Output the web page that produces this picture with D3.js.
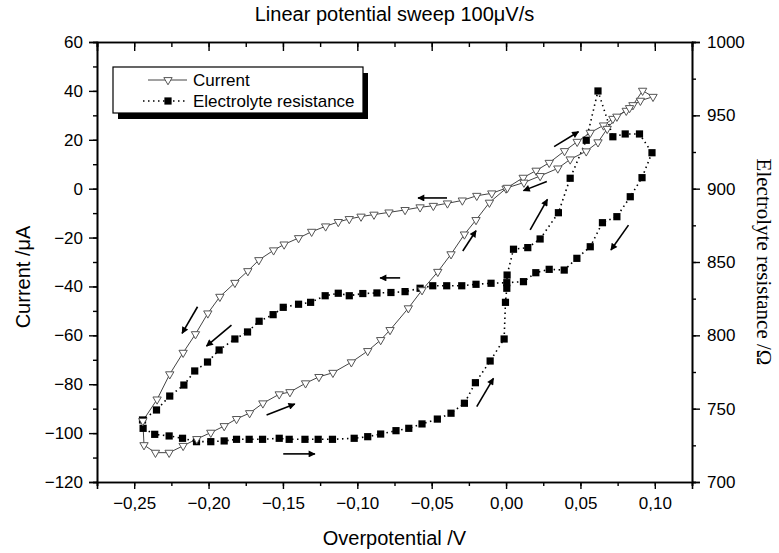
<!DOCTYPE html>
<html>
<head>
<meta charset="UTF-8">
<title>Linear potential sweep</title>
<script src="https://cdn.jsdelivr.net/npm/d3@7"></script>
<style>
  body { margin: 0; background: #fff; }
  text { font-family: "Liberation Sans", Arial, sans-serif; fill: #000; }
</style>
</head>
<body>
<script>
// overpotential (V) / current (uA) - one closed sweep loop
var currentX = [-0.2434,-0.2357,-0.2265,-0.2171,-0.2079,-0.1985,-0.1895,-0.1812,-0.1724,-0.1635,-0.1525,-0.1453,-0.1348,-0.1258,-0.1164,-0.1040,-0.0930,-0.0843,-0.0780,-0.0657,-0.0565,-0.0459,-0.0370,-0.0280,-0.0202,-0.0112,0.0000,
  0.0115,0.0202,0.0290,0.0393,0.0478,0.0566,0.0655,0.0718,0.0808,0.0853,0.0918,0.0988,
  0.0903,0.0830,0.0745,0.0680,0.0618,0.0539,0.0431,0.0348,0.0229,0.0120,0.0009,
  -0.0096,-0.0197,-0.0294,-0.0394,-0.0489,-0.0578,-0.0679,-0.0787,-0.0888,-0.0975,-0.1054,-0.1128,-0.1213,-0.1307,-0.1395,-0.1492,-0.1563,-0.1662,-0.1736,-0.1823,-0.1924,-0.2005,-0.2088,-0.2171,-0.2261,-0.2346,-0.2442];
var currentY = [-104.9,-108.0,-108.0,-105.2,-102.4,-99.8,-97.1,-94.2,-91.8,-87.8,-84.1,-83.2,-79.6,-77.0,-75.3,-71.0,-66.4,-61.9,-57.8,-48.9,-41.5,-34.0,-26.8,-18.7,-12.8,-5.7,0.1,
  4.5,7.4,10.6,15.4,19.2,22.9,25.9,28.6,31.9,34.2,40.1,37.6,
  36.0,33.0,29.5,24.5,19.0,15.3,12.0,8.3,5.2,2.5,0.4,
  -1.9,-2.9,-4.8,-6.0,-7.0,-7.6,-8.7,-9.7,-10.6,-11.4,-12.4,-13.6,-15.4,-17.6,-20.2,-22.8,-25.2,-29.2,-33.7,-38.5,-44.2,-51.0,-59.5,-67.1,-75.9,-86.2,-95.0];

// overpotential (V) / electrolyte resistance (Ohm)
var resistX = [0.0981,0.0914,0.0835,0.0745,0.0648,0.0566,0.0476,0.0391,0.0290,0.0200,0.0117,0.0005,-0.0101,-0.0202,-0.0298,-0.0399,-0.0493,-0.0578,-0.0679,-0.0774,-0.0868,-0.0963,-0.1054,-0.1128,-0.1216,-0.1314,-0.1395,-0.1498,-0.1566,-0.1660,-0.1738,-0.1823,-0.1929,-0.2007,-0.2093,-0.2166,-0.2261,-0.2350,-0.2444,-0.2440,
  -0.2362,-0.2265,-0.2175,-0.2081,-0.1985,-0.1895,-0.1812,-0.1727,-0.1637,-0.1525,-0.1458,-0.1352,-0.1263,-0.1167,-0.1021,-0.0930,-0.0843,-0.0740,-0.0654,-0.0565,-0.0462,-0.0370,-0.0280,-0.0206,-0.0107,-0.0013,-0.0004,0.0005,0.0007,
  0.0050,0.0146,0.0229,0.0352,0.0431,0.0539,0.0618,0.0718,0.0801,0.0897];
var resistY = [924.5,907.5,894.5,880.9,876.8,860.4,852.5,844.5,845.0,842.7,836.6,835.9,835.5,834.8,833.8,833.8,833.8,832.1,829.8,829.2,828.9,828.5,827.0,828.7,827.0,822.5,821.2,819.1,814.1,809.6,802.3,797.5,790.0,781.8,775.7,766.1,758.6,749.1,742.3,736.6,
  732.5,731.4,729.8,727.5,727.5,728.0,729.1,729.1,729.1,729.8,729.1,729.1,729.1,729.1,729.8,730.9,732.7,735.0,736.6,739.6,742.9,746.9,753.7,767.7,782.5,797.5,822.5,832.1,841.1,
  858.7,859.8,865.7,883.6,907.1,933.0,966.6,935.4,937.3,937.3];

// sweep direction arrows, in (V, uA)
var arrowX0 = [-0.2074,-0.1846,-0.1610,-0.1498,-0.0197,0.0323,0.0274,0.0162,-0.0291,0.0823,-0.0397,-0.0712];
var arrowY0 = [-48.3,-55.8,-92.6,-108.5,-89.2,17.2,2.9,-16.9,-25.5,-14.9,-3.8,-36.5];
var arrowX1 = [-0.2178,-0.2014,-0.1420,-0.1285,-0.0085,0.0487,0.0117,0.0278,-0.0202,0.0705,-0.0592,-0.0847];
var arrowY1 = [-59.2,-64.4,-88.1,-108.5,-77.6,23.3,-0.8,-4.4,-17.2,-25.1,-3.8,-36.5];

var xTicks = [-0.25,-0.20,-0.15,-0.10,-0.05,0.00,0.05,0.10];
var yTicks = [-120,-100,-80,-60,-40,-20,0,20,40,60];
var rTicks = [700,750,800,850,900,950,1000];

var W = 779, H = 553;
var m = {top: 42, right: 87, bottom: 71, left: 97};

var svg = d3.select("body").append("svg")
  .attr("width", W)
  .attr("height", H);

svg.append("rect").attr("width", W).attr("height", H).attr("fill", "#fff");

var x = d3.scaleLinear().domain([-0.275, 0.125]).range([m.left, W - m.right]);
var y = d3.scaleLinear().domain([-120, 60]).range([H - m.bottom, m.top]);
var yr = d3.scaleLinear().domain([700, 1000]).range([H - m.bottom, m.top]);

var fmtX = function(d){ return d3.format(".2f")(d).replace(".", ","); };

function minor(lo, hi, step) {
  var out = [];
  for (var v = lo; v <= hi + 1e-9; v += step) out.push(+v.toFixed(4));
  return out;
}

function styleAxis(g) {
  g.selectAll("path.domain").attr("stroke", "#000").attr("stroke-width", 1.6);
  g.selectAll(".tick line").attr("stroke", "#000").attr("stroke-width", 1.4);
  g.selectAll("text").style("font-size", "17px").attr("fill", "#000");
}

// bottom
svg.append("g").attr("transform", "translate(0," + (H - m.bottom) + ")")
  .call(d3.axisBottom(x).tickValues(minor(-0.275, 0.125, 0.025)).tickSize(4).tickFormat(""))
  .call(styleAxis);
svg.append("g").attr("transform", "translate(0," + (H - m.bottom) + ")")
  .call(d3.axisBottom(x).tickValues(xTicks).tickSize(7).tickPadding(8).tickFormat(fmtX))
  .call(styleAxis);
// top (inward ticks, no labels)
svg.append("g").attr("transform", "translate(0," + m.top + ")")
  .call(d3.axisTop(x).tickValues(minor(-0.275, 0.125, 0.025)).tickSize(-5).tickFormat(""))
  .call(styleAxis);
svg.append("g").attr("transform", "translate(0," + m.top + ")")
  .call(d3.axisTop(x).tickValues(xTicks).tickSize(-9).tickFormat(""))
  .call(styleAxis);
// left
svg.append("g").attr("transform", "translate(" + m.left + ",0)")
  .call(d3.axisLeft(y).tickValues(minor(-120, 60, 10)).tickSize(4).tickFormat(""))
  .call(styleAxis);
svg.append("g").attr("transform", "translate(" + m.left + ",0)")
  .call(d3.axisLeft(y).tickValues(yTicks).tickSize(8).tickPadding(6).tickFormat(d3.format("d")))
  .call(styleAxis);
// right
svg.append("g").attr("transform", "translate(" + (W - m.right) + ",0)")
  .call(d3.axisRight(yr).tickValues(minor(700, 1000, 25)).tickSize(4).tickFormat(""))
  .call(styleAxis);
svg.append("g").attr("transform", "translate(" + (W - m.right) + ",0)")
  .call(d3.axisRight(yr).tickValues(rTicks).tickSize(8).tickPadding(7).tickFormat(d3.format("d")))
  .call(styleAxis);

// titles
svg.append("text").attr("x", (m.left + W - m.right) / 2).attr("y", 21)
  .attr("text-anchor", "middle").style("font-size", "20px")
  .text("Linear potential sweep 100\u03bcV/s");
svg.append("text").attr("x", (m.left + W - m.right) / 2).attr("y", 545)
  .attr("text-anchor", "middle").style("font-size", "20px")
  .text("Overpotential /V");
svg.append("text").attr("transform", "translate(30,277) rotate(-90)")
  .attr("text-anchor", "middle").style("font-size", "20px")
  .text("Current /\u03bcA");
svg.append("text").attr("transform", "translate(757,262) rotate(90)")
  .attr("text-anchor", "middle")
  .style("font-family", "'Liberation Serif', 'Times New Roman', serif")
  .style("font-size", "21px")
  .text("Electrolyte resistance /\u03a9");

// data
var cur = currentX.map(function(d, i){ return [d, currentY[i]]; });
var res = resistX.map(function(d, i){ return [d, resistY[i]]; });

svg.append("path").datum(res)
  .attr("d", d3.line().x(function(d){ return x(d[0]); }).y(function(d){ return yr(d[1]); }).curve(d3.curveLinearClosed))
  .attr("fill", "none").attr("stroke", "#000").attr("stroke-width", 1.6)
  .attr("stroke-dasharray", "1.5,3.5");

svg.append("path").datum(cur)
  .attr("d", d3.line().x(function(d){ return x(d[0]); }).y(function(d){ return y(d[1]); }).curve(d3.curveLinearClosed))
  .attr("fill", "none").attr("stroke", "#444").attr("stroke-width", 1);

var tri = d3.symbol().type(d3.symbolTriangle).size(30);
var sq = d3.symbol().type(d3.symbolSquare).size(52);

svg.selectAll(".sq").data(res).enter().append("path")
  .attr("class", "sq")
  .attr("d", sq)
  .attr("transform", function(d){ return "translate(" + x(d[0]) + "," + yr(d[1]) + ")"; })
  .attr("fill", "#000");

svg.selectAll(".tri").data(cur).enter().append("path")
  .attr("class", "tri")
  .attr("d", tri)
  .attr("transform", function(d){ return "translate(" + x(d[0]) + "," + y(d[1]) + ") rotate(180)"; })
  .attr("fill", "#fff").attr("stroke", "#555").attr("stroke-width", 1);

// arrows
svg.append("defs").append("marker")
  .attr("id", "ah").attr("viewBox", "0 0 10 10").attr("refX", 9).attr("refY", 5)
  .attr("markerWidth", 9).attr("markerHeight", 7).attr("markerUnits", "userSpaceOnUse")
  .attr("orient", "auto")
  .append("path").attr("d", "M0,0 L10,5 L0,10 Z").attr("fill", "#000");

svg.selectAll(".arr").data(arrowX0).enter().append("line")
  .attr("class", "arr")
  .attr("x1", function(d){ return x(d); })
  .attr("y1", function(d, i){ return y(arrowY0[i]); })
  .attr("x2", function(d, i){ return x(arrowX1[i]); })
  .attr("y2", function(d, i){ return y(arrowY1[i]); })
  .attr("stroke", "#000").attr("stroke-width", 1.6)
  .attr("marker-end", "url(#ah)");

// legend
var lg = svg.append("g").attr("transform", "translate(113,67)");
lg.append("rect").attr("x", 5).attr("y", 6).attr("width", 250).attr("height", 46).attr("fill", "#000");
lg.append("rect").attr("width", 250).attr("height", 46).attr("fill", "#fff").attr("stroke", "#000").attr("stroke-width", 1.2);
lg.append("line").attr("x1", 35).attr("x2", 74).attr("y1", 13).attr("y2", 13).attr("stroke", "#444");
lg.append("path").attr("d", tri).attr("transform", "translate(55,13) rotate(180)")
  .attr("fill", "#fff").attr("stroke", "#555");
lg.append("text").attr("x", 80).attr("y", 19).style("font-size", "17px").text("Current");
lg.append("line").attr("x1", 30).attr("x2", 74).attr("y1", 34).attr("y2", 34)
  .attr("stroke", "#000").attr("stroke-width", 1.6).attr("stroke-dasharray", "1.5,3.5");
lg.append("path").attr("d", sq).attr("transform", "translate(55,34)").attr("fill", "#000");
lg.append("text").attr("x", 80).attr("y", 40).style("font-size", "17px").text("Electrolyte resistance");
</script>
</body>
</html>
